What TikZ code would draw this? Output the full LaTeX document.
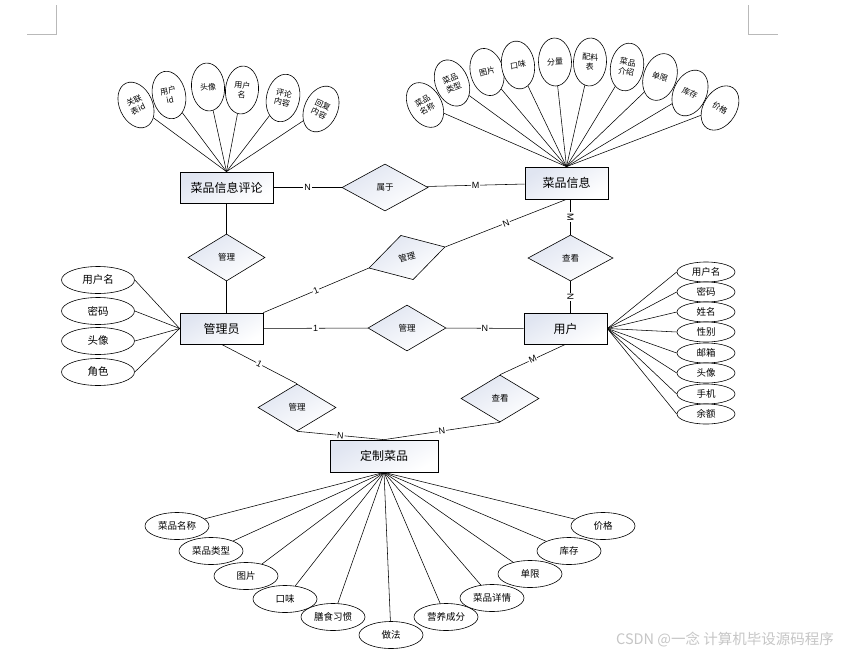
\documentclass[tikz,border=0pt]{standalone}
\usepackage{fontspec}
\setmainfont{Noto Sans CJK SC}
\newfontfamily\lat{Liberation Sans}
\usetikzlibrary{shapes.geometric,backgrounds}
\definecolor{shd}{RGB}{224,229,241}
\pgfdeclarelayer{paper}
\pgfsetlayers{paper,background,main}
\begin{document}
\begin{tikzpicture}[x=1pt,y=-1pt,
  ent/.style={draw, line width=0.7pt, rectangle, shading=axis, top color=shd, bottom color=white, shading angle=30, inner sep=0pt, font=\fontsize{12}{14}\selectfont},
  rel/.style={draw, line width=0.6pt, diamond, shading=axis, top color=shd, bottom color=white, shading angle=30, inner sep=0pt, font=\fontsize{8.5}{10}\selectfont},
  vat/.style={ellipse, draw, fill=white, line width=0.6pt, inner sep=0pt, minimum width=33pt, minimum height=48pt, align=center, font=\fontsize{8}{9.5}\selectfont},
  hat/.style={ellipse, draw, fill=white, line width=0.6pt, inner sep=0pt, font=\fontsize{10}{12}\selectfont},
  uat/.style={hat, minimum width=58pt, minimum height=20pt, font=\fontsize{9.5}{11}\selectfont},
  mat/.style={hat, minimum width=73pt, minimum height=27pt, font=\fontsize{10.5}{12}\selectfont},
  dat/.style={hat, minimum width=64pt, minimum height=27pt, font=\fontsize{9.5}{11}\selectfont},
  lab/.style={fill=white, inner sep=0.8pt, font=\lat\fontsize{9}{10}\selectfont},
  ln/.style={line width=0.55pt},
  cornermark/.style={draw=gray!55, line width=0.7pt}
]
\begin{pgfonlayer}{paper}
\fill[white] (0,0) rectangle (841,656);
\end{pgfonlayer}
\useasboundingbox (0,0) rectangle (841,656);

% page corner marks
\draw[cornermark] (27,34) -- (56,34) -- (56,5);
\draw[cornermark] (748,5) -- (748,34) -- (778,34);

% entities
\node[ent, minimum width=93pt, minimum height=31pt] (E1) at (226.5,187.5) {菜品信息评论};
\node[ent, minimum width=83pt, minimum height=32pt] (E2) at (566.5,183) {菜品信息};
\node[ent, minimum width=83pt, minimum height=31pt] (E3) at (221.5,328.5) {管理员};
\node[ent, minimum width=83pt, minimum height=31pt] (E4) at (565.5,328.5) {用户};
\node[ent, minimum width=108pt, minimum height=32pt] (E5) at (384,456) {定制菜品};

% relationships
\node[rel, minimum width=86pt, minimum height=47pt] (R1) at (385,187.5) {属于};
\node[rel, minimum width=77pt, minimum height=47pt] (R2) at (226.5,257.5) {管理};
\node[rel, minimum width=79pt, minimum height=46pt, rotate=15.5] (R3) at (407,257.5) {管理};
\node[rel, minimum width=85pt, minimum height=46pt] (R4) at (570.5,258) {查看};
\node[rel, minimum width=78pt, minimum height=46pt] (R5) at (407,328) {管理};
\node[rel, minimum width=78pt, minimum height=47pt] (R6) at (297,407.5) {管理};
\node[rel, minimum width=78pt, minimum height=47pt] (R7) at (500,398.5) {查看};

% attributes of 菜品信息评论
\node[vat, rotate=25]  (a1) at (136,105) {关联\\表id};
\node[vat, rotate=12]  (a2) at (169,95)  {用户\\id};
\node[vat, rotate=5]   (a3) at (208,87)  {头像};
\node[vat, rotate=-5]  (a4) at (242,90)  {用户\\名};
\node[vat, rotate=-12] (a5) at (283,98)  {评论\\内容};
\node[vat, rotate=-25] (a6) at (321,109) {回复\\内容};

% attributes of 菜品信息
\node[vat, rotate=30]  (b1)  at (425,105) {菜品\\名称};
\node[vat, rotate=22]  (b2)  at (452,83)  {菜品\\类型};
\node[vat, rotate=15]  (b3)  at (487,72)  {图片};
\node[vat, rotate=8]   (b4)  at (518,65)  {口味};
\node[vat, rotate=2]   (b5)  at (555,62)  {分量};
\node[vat, rotate=-3]  (b6)  at (590,62)  {配料\\表};
\node[vat, rotate=-10] (b7)  at (627,67)  {菜品\\介绍};
\node[vat, rotate=-18] (b8)  at (660,77)  {单限};
\node[vat, rotate=-25] (b9)  at (690,93)  {库存};
\node[vat, rotate=-32] (b10) at (720,108) {价格};

% attributes of 用户
\node[uat] (u1) at (706,272) {用户名};
\node[uat] (u2) at (706,292) {密码};
\node[uat] (u3) at (706,312) {姓名};
\node[uat] (u4) at (706,332) {性别};
\node[uat] (u5) at (706,353) {邮箱};
\node[uat] (u6) at (706,373) {头像};
\node[uat] (u7) at (706,394) {手机};
\node[uat] (u8) at (706,414) {余额};

% attributes of 管理员
\node[mat] (m1) at (98,280) {用户名};
\node[mat] (m2) at (98,311) {密码};
\node[mat] (m3) at (98,341) {头像};
\node[mat] (m4) at (98,372) {角色};

% attributes of 定制菜品
\node[dat] (d1)  at (177,526) {菜品名称};
\node[dat] (d2)  at (211,551) {菜品类型};
\node[dat] (d3)  at (246,576) {图片};
\node[dat] (d4)  at (285,599) {口味};
\node[dat] (d5)  at (333,617) {膳食习惯};
\node[dat] (d6)  at (391,635) {做法};
\node[dat] (d7)  at (446,617) {营养成分};
\node[dat] (d8)  at (492,598) {菜品详情};
\node[dat] (d9)  at (530,574) {单限};
\node[dat] (d10) at (569,551) {库存};
\node[dat] (d11) at (603,526) {价格};

% watermark
\node[anchor=east, text=gray!45, font=\fontsize{14.5}{16}\selectfont, inner sep=0pt] (wm) at (834,640) {CSDN @一念 计算机毕设源码程序};

\begin{scope}[on background layer]
  % relationship connectors
  \draw[ln] (E1) -- node[lab]{N} (R1);
  \draw[ln] (R1) -- node[lab]{M} (E2);
  \draw[ln] (E1.south) -- (R2.north);
  \draw[ln] (R2.south) -- (E3.north -| R2.south);
  \draw[ln] (E3.north east) -- node[lab, sloped]{1} (R3.west);
  \draw[ln] (R3.east) -- node[lab, sloped]{N} (E2.south);
  \draw[ln] (R4.north |- E2.south) -- node[lab, sloped]{M} (R4.north);
  \draw[ln] (R4.south) -- node[lab, sloped]{N} (R4.south |- E4.north);
  \draw[ln] (E3) -- node[lab]{1} (R5);
  \draw[ln] (R5) -- node[lab]{N} (E4);
  \draw[ln] (E3.south) -- node[lab, sloped]{1} (R6.north);
  \draw[ln] (R6.south) -- node[lab, sloped]{N} (E5.north);
  \draw[ln] (E4.south) -- node[lab, sloped]{M} (R7.north);
  \draw[ln] (R7.south) -- node[lab, sloped]{N} (E5.north);
  % attribute connectors
  \foreach \n in {a1,a2,a3,a4,a5,a6} \draw[ln] (\n) -- (E1.north);
  \foreach \n in {b1,b2,b3,b4,b5,b6,b7,b8,b9,b10} \draw[ln] (\n) -- (E2.north);
  \foreach \n in {u1,u2,u3,u4,u5,u6,u7,u8} \draw[ln] (E4.east) -- (\n.west);
  \foreach \n in {m1,m2,m3,m4} \draw[ln] (E3.west) -- (\n.east);
  \foreach \n in {d1,d2,d3,d4,d5,d6,d7,d8,d9,d10,d11} \draw[ln] (E5.south) -- (\n);
\end{scope}
\end{tikzpicture}
\end{document}
